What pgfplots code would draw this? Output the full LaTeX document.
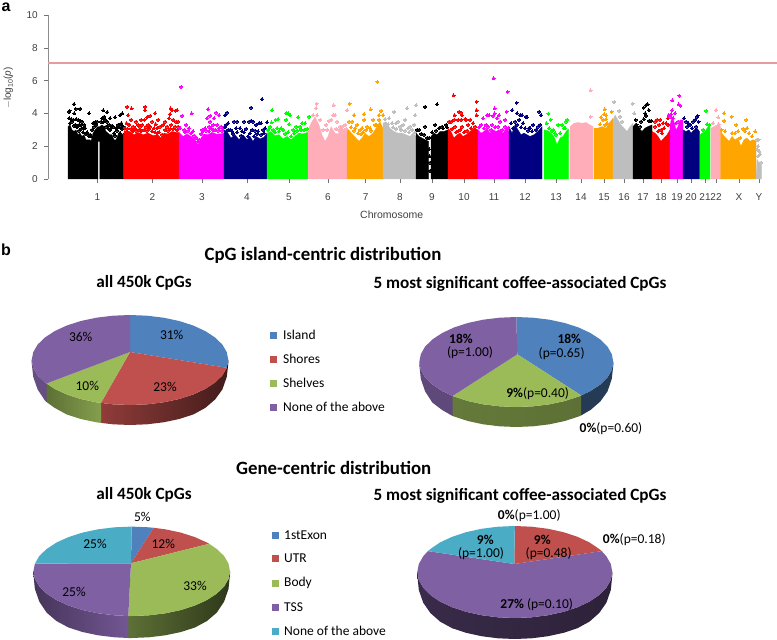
\documentclass[border=0pt]{standalone}
\usepackage{fontspec}
\usepackage{pgfplots}
\pgfplotsset{compat=1.18}
\setmainfont{Carlito}
\newfontfamily\arial{Liberation Sans}
\definecolor{cblue}{HTML}{4F81BD}
\definecolor{cred}{HTML}{C0504D}
\definecolor{cgreen}{HTML}{9BBB59}
\definecolor{cpurple}{HTML}{7F60A3}
\definecolor{caqua}{HTML}{4BACC6}
\definecolor{mblack}{HTML}{000000}
\definecolor{mred}{HTML}{FF0000}
\definecolor{mmag}{HTML}{FF00FF}
\definecolor{mnavy}{HTML}{000080}
\definecolor{mgreen}{HTML}{00FF00}
\definecolor{mpink}{HTML}{FFAEB9}
\definecolor{morange}{HTML}{FFA500}
\definecolor{mgrey}{HTML}{BEBEBE}
\definecolor{txt}{HTML}{404040}
\definecolor{sigline}{HTML}{E49C9C}
\pgfplotsset{
 bulk/.style={fill=#1,draw=#1,line width=0.2pt,mark=none},
 dots/.style={only marks,mark=*,mark size=1.5pt,color=#1,mark options={draw=#1,fill=#1,line width=0pt}},
}
\newcommand{\ttl}[1]{{\fontsize{18.8}{18.8}\selectfont\bfseries #1}}
\newcommand{\sub}[1]{{\fontsize{17.2}{17.2}\selectfont\bfseries #1}}
\newcommand{\pc}{\fontsize{13.5}{13.5}\selectfont}
\begin{document}
\begin{tikzpicture}[x=1pt,y=1pt]
\useasboundingbox (0,0) rectangle (777pt,640pt);
% ---------- a: Manhattan plot ----------
\begin{axis}[at={(48.3pt,461pt)},anchor=south west,scale only axis,width=728.7pt,height=164pt,
 xmin=48.3,xmax=777,ymin=0,ymax=10,clip=false,
 axis y line*=left,axis x line*=bottom,
 x axis line style={draw=none},
 y axis line style={draw=black!45,line width=1.2pt,-},
 ytick={0,2,4,6,8,10},
 xtick={97.5,152.5,202,247,289,328,365.6,400,432,464,494,525,556,581,604,624,643,661,677,691,705,716,739,759},
 xticklabels={1,2,3,4,5,6,7,8,9,10,11,12,13,14,15,16,17,18,19,20,21,22,X,Y},
 tick style={draw=black!55,line width=0.5pt},
 major tick length=4.5pt,
 tick align=outside,
 /pgf/number format/assume math mode=true,
 tick label style={font=\arial\fontsize{10}{10}\selectfont,text=txt},
 xticklabel style={yshift=-6.5pt},
 yticklabel style={xshift=-2.5pt},
 ]
\addplot[draw=sigline,line width=1.5pt,mark=none,forget plot] coordinates {(48.3,7.07)(777,7.07)};
% chr 1
\addplot[bulk=mblack] coordinates {(68,0)(68,3.2)(70,3.3)(72,3.0)(74,2.9)(76,3.0)(78,2.7)(80,2.8)(82,2.6)(84,2.7)(86,2.4)(88,2.4)(90,2.4)(91,2.3)(93,2.8)(95,3.0)(97.7,3.2)(99.8,3.2)(102,3.3)(104,3.2)(106,2.9)(108,2.8)(110,2.7)(112,2.7)(114,2.4)(116,2.4)(118,2.7)(120,2.9)(122,2.7)(123.7,2.8)(123.7,0)(99.8,0)(99.8,2.3)(97.9,2.3)(97.9,0)} -- cycle;
\addplot[dots=mblack] coordinates {(69,4.1)(74,4.57)(69.5,4.15)(75.7,4.28)(80,4.28)(74.3,4)(89,4.0)(103.3,4.18)(107.3,4.08)(104.3,3.8)(115,3.76)(110,3.7)(120,3.9)(122.3,4)(121.3,3.4)(69,3.7)(71,3.65)(73,3.6)(76,3.65)(78,3.6)(80,3.55)(82,3.5)(84,3.3)(85,3.1)(87,2.85)(75,3.3)(79,3.3)(81,3.3)(83,3.1)(90,2.7)(93,3.4)(95,3.45)(97,3.5)(102,3.7)(105,3.6)(107,3.5)(109,3.3)(112,3.25)(113,3.2)(116,3.1)(118,3.3)(121,3.25)(123,3.2)(70,3.4)(72,3.5)(74,3.25)(77,3.15)(79,2.95)(81,3.05)(83,2.85)(86,2.75)(88,2.7)(89,2.6)(91,2.6)(92,3.0)(94,3.2)(96,3.3)(101,3.5)(103,3.45)(106,3.2)(108,3.1)(110,3.0)(111,3.1)(114,2.8)(115,2.65)(117,2.95)(119,3.15)(120,2.8)(122,3.05)};
% chr 2
\addplot[bulk=mred] coordinates {(124,0)(124,2.95)(130,2.9)(134,2.7)(138,2.85)(143,2.7)(148,2.8)(153,2.65)(158,2.7)(161,2.5)(164,2.8)(168,2.75)(172,2.9)(176,2.85)(179,2.85)(179,0)} -- cycle;
\addplot[dots=mred] coordinates {(127,4.4)(131.5,4.3)(145,4.4)(145,4.2)(155,4)(158,3.6)(150,3.85)(147,3.75)(131,3.6)(128,3.9)(126.5,3.4)(136,3.5)(141,3.6)(144.5,3.6)(148,3.3)(152,3.5)(155.5,3.35)(165,3.5)(170,3.95)(170.5,4.3)(172,4.2)(177,4.2)(175.5,4.15)(169,3.7)(173,3.6)(176,3.5)(178,3.5)(129,3.3)(133,3.2)(135,3.1)(138,3.3)(140,3.2)(142,3.3)(146,3.2)(150,3.2)(154,3.1)(157,3.1)(160,3.2)(163,3.3)(167,3.2)(171,3.3)(175,3.2)(178,3.2)(125,3.1)(127,3.05)(131,3.05)(133,2.9)(136,2.95)(139,3.0)(141,2.9)(144,3.0)(147,2.95)(149,3.05)(152,2.9)(155,2.85)(157,2.8)(159,2.85)(162,2.7)(165,3.0)(168,2.95)(170,3.05)(173,3.05)(177,3.0)};
% chr 3
\addplot[bulk=mmag] coordinates {(179,0)(179,2.85)(183,2.6)(187,2.75)(191,2.6)(195,2.4)(198,2.1)(201,2.5)(204,2.75)(208,2.7)(212,2.85)(216,2.75)(220,2.75)(224,2.8)(224,0)} -- cycle;
\addplot[dots=mmag] coordinates {(181,5.62)(182,3.85)(191.5,4)(208,4.25)(216,4.05)(219,3.9)(210,3.85)(207,3.7)(210,3.5)(213,3.3)(189,3.1)(186,3.3)(214,3.7)(209,3.2)(205,3.1)(196,2.5)(198,2.3)(199,2.4)(217,3.3)(221,3.2)(184,3.0)(193,2.9)(202,3.0)(211,3.1)(219,3.1)(223,3.1)(180,3.1)(185,2.85)(188,2.95)(191,2.8)(194,2.65)(201,2.75)(203,2.9)(206,2.95)(209,2.9)(213,3.0)(215,3.0)(218,2.95)(222,2.95)};
% chr 4
\addplot[bulk=mnavy] coordinates {(224,0)(224,3.0)(227,2.9)(231,2.5)(235,2.7)(239,2.4)(243,2.7)(247,2.4)(250,2.6)(253,2.3)(256,2.6)(260,2.45)(264,2.55)(267,2.8)(267,0)} -- cycle;
\addplot[dots=mnavy] coordinates {(225,3.9)(227,4.05)(251,4.35)(262,4.87)(234,3.5)(237,3.5)(244,3.5)(249,3.5)(251,3.55)(253,3.5)(256,3.3)(259,3.4)(261,3.4)(267,3.45)(228,3.4)(242,2.9)(232,2.9)(258,2.9)(263,3)(226,3.3)(230,3.0)(236,3.1)(240,3.1)(246,3.05)(252,3.0)(255,2.95)(265,3.1)(225,3.15)(228,3.0)(233,2.75)(237,2.85)(241,2.65)(244,2.85)(248,2.6)(250,2.8)(254,2.6)(257,2.75)(261,2.7)(264,2.8)};
% chr 5
\addplot[bulk=mgreen] coordinates {(267,0)(267,2.8)(271,2.9)(275,2.65)(279,2.7)(283,2.45)(287,2.6)(291,2.4)(295,2.6)(299,2.8)(303,2.75)(308,2.85)(308,0)} -- cycle;
\addplot[dots=mgreen] coordinates {(272,4.2)(275.5,3.6)(271.5,3.45)(270,3.2)(278,3.65)(286,3.6)(289,3.35)(286,4.0)(288,4.0)(290,3.9)(298,3.75)(302,3.4)(305,3.4)(309,3.8)(283,3.0)(281,3.1)(300,3.2)(296,3.2)(277,3.1)(293,3.0)(268,3.0)(273,3.0)(275,2.85)(279,2.9)(285,2.75)(288,2.85)(291,2.6)(294,2.8)(297,2.95)(301,3.0)(304,3.0)(307,3.05)};
% chr 6
\addplot[bulk=mpink] coordinates {(308,0)(308,3.0)(311,3.4)(315,3.8)(319,3.3)(322,2.7)(325,2.3)(328,2.6)(331,3.2)(335,2.8)(338,2.75)(342,3.1)(347,2.9)(347,0)} -- cycle;
\addplot[dots=mpink] coordinates {(316.5,4.6)(316,4.3)(313,3.9)(317,3.9)(320,3.6)(333.5,4.5)(333,3.9)(335,3.9)(331,3.6)(329,3.55)(326,3.3)(347,4.2)(337,3.5)(344,2.9)(323,3.0)(327,3.0)(340,3.2)(345,3.3)(336,3.05)(339,3.0)(342,3.2)(346,3.05)};
% chr 7
\addplot[bulk=morange] coordinates {(347,0)(347,3.1)(350,2.9)(353,2.7)(356,2.5)(359,2.3)(362,2.5)(365,2.8)(369,2.6)(373,2.8)(377,3.2)(380,3.5)(383,3.1)(383,0)} -- cycle;
\addplot[dots=morange] coordinates {(349.5,4.6)(354,3.9)(364,3.95)(370.5,4.25)(377.3,5.93)(381,4.15)(379,3.9)(383,3.9)(373,3.6)(364,3.6)(352,3.5)(349,3.5)(357,3.3)(362,3.1)(355,3.1)(367,3.2)(370,3.1)(360,3.0)(375,3.3)(351,3.15)(354,2.95)(358,2.8)(361,2.75)(363,2.85)(366,3.0)(371,2.95)(376,3.3)(379,3.6)};
% chr 8
\addplot[bulk=mgrey] coordinates {(383,0)(383,3.4)(386,3.5)(390,3.1)(394,2.9)(398,2.8)(402,2.8)(406,2.7)(410,2.6)(413,2.8)(416,2.6)(416,0)} -- cycle;
\addplot[dots=mgrey] coordinates {(394,4.1)(407,4.3)(416,4.5)(415,3.9)(405,3.6)(398,3.5)(396,3.4)(389,3.7)(403,3.3)(414,3.3)(410,3.2)(392,3.4)(400,3.2)(408,3.1)(385,3.65)(388,3.35)(393,3.15)(396,3.05)(401,3.0)(405,2.95)(409,2.85)(412,3.0)(415,2.85)};
% chr 9
\addplot[bulk=mblack] coordinates {(416,0)(416,2.8)(419,2.6)(422,2.5)(425,2.4)(428.5,2.3)(428.5,0)} -- cycle;
\addplot[bulk=mblack] coordinates {(431,0)(431,2.6)(434,2.8)(437,2.7)(440,2.9)(444,2.9)(448,3.0)(448,0)} -- cycle;
\addplot[dots=mblack] coordinates {(425,4.4)(437,4.55)(419,3)(425,3.2)(435,3.3)(442,3.2)(429,1.8)(429.5,1.4)(430,1)(430,0.5)(429,2.5)(446,3.3)(417,3.0)(421,2.75)(424,2.7)(427,2.5)(432,2.85)(436,2.95)(439,3.1)(443,3.1)(447,3.15)};
% chr 10
\addplot[bulk=mred] coordinates {(448,0)(448,3.1)(451,2.9)(454,2.5)(457,2.7)(460,2.8)(463,2.6)(466,2.7)(470,2.9)(474,3.1)(478,3.0)(478,0)} -- cycle;
\addplot[dots=mred] coordinates {(453.5,5.1)(476.5,4.7)(476.5,4.2)(476.5,3.9)(459,4.1)(461,4.05)(462,3.9)(454.5,3.9)(454,3.6)(449,3.5)(451,3.5)(458,3.6)(461,3.6)(465,3.65)(466,3.6)(470,3.6)(473,3.4)(455,3.2)(462,3.2)(468,3.3)(458,2.9)(452,3.05)(456,2.85)(460,3.0)(464,2.85)(467,2.95)(471,3.1)(475,3.2)};
% chr 11
\addplot[bulk=mmag] coordinates {(478,0)(478,3.0)(481,2.8)(484,2.9)(487,3.1)(490,2.8)(493,3.0)(496,2.9)(499,3.0)(503,2.8)(506,3.1)(509,2.9)(509,0)} -- cycle;
\addplot[dots=mmag] coordinates {(493.5,6.15)(507.7,5.32)(506.5,4.1)(494.5,4.3)(494.5,4)(487,3.9)(489,3.9)(493,3.85)(497,3.7)(499,3.9)(505,3.6)(483,3.7)(481,3.3)(500,3.5)(486,3.3)(492,3.3)(479,3.15)(484,3.1)(488,3.2)(491,3.0)(495,3.15)(498,3.2)(502,3.0)(505,3.2)(508,3.1)};
% chr 12
\addplot[bulk=mnavy] coordinates {(509,0)(509,3.2)(512,2.8)(515,3.3)(518,3.0)(521,2.7)(524,2.8)(527,2.7)(530,2.6)(534,2.7)(538,2.9)(542,3.2)(542,0)} -- cycle;
\addplot[dots=mnavy] coordinates {(512.3,4.2)(516.7,4.65)(517,4)(520,3.9)(522,3.9)(526,3.8)(527,3.75)(533,3.3)(539,4.1)(541,3.9)(538,3.2)(530,3.1)(515,3.5)(519,3.6)(523,3.4)(529,3.1)(511,3.4)(513,3.1)(517,3.3)(521,3.15)(525,3.1)(528,2.95)(532,2.9)(536,3.0)(540,3.3)};
% chr 13
\addplot[bulk=mgreen] coordinates {(544,0)(544,3.0)(548,2.95)(551,2.8)(554,2.6)(557,2.1)(560,2.5)(563,2.6)(566,2.9)(568.5,3.05)(568.5,0)} -- cycle;
\addplot[dots=mgreen] coordinates {(548.3,3.98)(550.5,3.6)(546.5,3.4)(558,3.3)(553,3)(562,3.3)(566,3.5)(567,3.6)(556,2.7)(564,3.1)(549,3.1)(552,2.95)(555,2.8)(560,2.8)(565,3.1)};
% chr 14
\addplot[bulk=mpink] coordinates {(570,0)(570,3.2)(574,3.4)(578,3.45)(582,3.4)(586,3.45)(590,3.3)(593,3.2)(593,0)} -- cycle;
\addplot[dots=mpink] coordinates {(590.5,5.4)(590.5,3.8)};
% chr 15
\addplot[bulk=morange] coordinates {(594,0)(594,3.1)(598,3.1)(602,3.2)(606,3.1)(609,3.4)(613,3.7)(613,0)} -- cycle;
\addplot[dots=morange] coordinates {(604.6,4.25)(604,3.95)(606,3.9)(611.5,4.1)(601,3.75)(603,3.6)(606,3.65)(607,3.4)(600,3.35)(605,3.3)};
% chr 16
\addplot[bulk=mgrey] coordinates {(613,0)(613,3.6)(615,3.9)(618,3.6)(621,3.3)(624,3.1)(627,2.9)(630,3.2)(633,3.4)(633,0)} -- cycle;
\addplot[dots=mgrey] coordinates {(614.3,4.7)(619.3,4.15)(632.7,4.6)(634.3,4.0)(620,3.8)(622,3.5)};
% chr 17
\addplot[bulk=mblack] coordinates {(633,0)(633,3.2)(636,3.4)(639,3.1)(642,2.9)(645,3.1)(648,3.2)(652,3.3)(652,0)} -- cycle;
\addplot[dots=mblack] coordinates {(635.6,3.6)(643.7,4.35)(646,4.5)(647.7,4.55)(648.7,4.2)(645.3,4.0)(646,3.85)(643.7,3.65)(641,3.5)(649,3.55)(651,3.55)(636.5,3.3)(640,3.2)};
% chr 18
\addplot[bulk=mred] coordinates {(652,0)(652,2.9)(655,2.8)(658,2.6)(661,2.3)(664,2.5)(667,2.7)(670,3.0)(670,0)} -- cycle;
\addplot[dots=mred] coordinates {(657,3.6)(660,3.6)(663,3.4)(655,3.2)(659,3.3)(661,3.0)(664,3.1)(666,3.4)(668,3.7)(668,3.3)(655,3.5)(662,2.8)(658,2.9)};
% chr 19
\addplot[bulk=mmag] coordinates {(670,0)(670,3.3)(672,3.8)(674,3.5)(676,3.0)(678,3.2)(680,3.6)(683,3.6)(683,0)} -- cycle;
\addplot[dots=mmag] coordinates {(672.3,4.8)(679.3,5.08)(678.7,4.55)(680.3,4.47)(671,3.95)(672,4.2)(675,4.0)(673,3.7)(670,3.8)(676,3.4)(678,3.5)(668.5,3.9)};
% chr 20
\addplot[bulk=mnavy] coordinates {(683,0)(683,3.0)(686,2.9)(689,3.0)(691,2.8)(694,3)(697,3.1)(699.5,2.9)(699.5,0)} -- cycle;
\addplot[dots=mnavy] coordinates {(684,3.7)(686,3.5)(688,3.4)(690,3.3)(693,3.5)(695,3.6)(697,3.8)(697.5,3.85)(698.5,3.5)(692,3.1)(687,3.2)(696,3.2)};
% chr 21
\addplot[bulk=mgreen] coordinates {(700,0)(700,2.7)(702,2.8)(705,2.9)(707,3.1)(710,3.3)(710,0)} -- cycle;
\addplot[dots=mgreen] coordinates {(706,4.15)(707,3.35)(709,3.3)(703,3.0)};
% chr 22
\addplot[bulk=mpink] coordinates {(711,0)(711,3.1)(714,3.2)(717,3.3)(720.5,3.2)(720.5,0)} -- cycle;
\addplot[dots=mpink] coordinates {(716,4.2)(718,3.75)(713,3.4)(718.5,3.35)};
% chr X
\addplot[bulk=morange] coordinates {(720.5,0)(720.5,2.9)(723,2.7)(726,2.5)(729,2.3)(732,2.6)(735,2.4)(738,2.5)(741,2.0)(744,2.4)(747,2.5)(750,2.3)(753,2.4)(756,2.3)(756,0)} -- cycle;
\addplot[dots=morange] coordinates {(724,4.0)(724,3.55)(731.7,3.8)(736.3,3.3)(746.3,3.6)(743,3.05)(732,2.8)(735,2.8)(738,2.9)(747,3.1)(749,2.8)(755.3,2.9)(740,2.5)(721.5,3)(725,2.9)(745,2.9)(752,2.6)};
% chr Y
\addplot[bulk=mgrey] coordinates {(756,0)(757,1.2)(759,1.0)(761.5,0.8)(761.5,0)} -- cycle;
\addplot[dots=mgrey] coordinates {(757,2.4)(758,2.0)(759,1.7)(760,1.5)(758,1.4)(761,1.0)(757,1.8)(758.5,2.4)};
\end{axis}
% ---------- b: pies, in image pixel coordinates ----------
\begin{axis}[at={(0pt,0pt)},anchor=south west,scale only axis,width=777pt,height=640pt,
 xmin=0,xmax=777,ymin=0,ymax=640,y dir=reverse,hide axis,clip=false]
% --- pie A walls
\addplot[draw=none,fill=blue!30!black] coordinates {(228.3,360)(226.8,367.8)(226.8,376.8)(228.3,363)} -- cycle;
\addplot[draw=none,shade,left color=cred!75!black,right color=cred!35!black] coordinates {(226.8,367.8)(222.4,375.4)(215.1,382.5)(205.3,388.9)(193.2,394.5)(179.2,399)(163.6,402.3)(147.1,404.3)(130,405)(112.9,404.3)(101,402.9)(101,422.9)(112.9,424.3)(130,425)(147.1,424.3)(163.6,422.3)(179.2,419)(193.2,414.5)(205.3,407.9)(215.1,399.5)(222.4,389.4)(226.8,376.8)} -- cycle;
\addplot[draw=none,shade,left color=cgreen!60!black,right color=cgreen!85!black] coordinates {(101,402.9)(96.4,402.3)(80.8,399)(66.8,394.5)(54.7,388.9)(46.5,383.5)(46.5,402)(54.7,407.9)(66.8,414.5)(80.8,419)(96.4,422.3)(101,422.9)} -- cycle;
\addplot[draw=none,fill=cpurple!80!black] coordinates {(46.5,383.5)(44.9,382.5)(37.6,375.4)(33.2,367.8)(31.7,360)(31.7,363)(33.2,376.8)(37.6,389.4)(44.9,400.5)(46.5,402)} -- cycle;
% --- pie A top
\addplot[draw=none,fill=cblue] coordinates {(130,352)(130,315)(147.1,315.7)(163.6,317.7)(179.2,321)(193.2,325.5)(205.3,331.1)(215.1,337.5)(222.4,344.6)(226.8,352.2)(228.3,360)(226.8,367.8)} -- cycle;
\addplot[draw=none,fill=cred] coordinates {(130,352)(226.8,367.8)(222.4,375.4)(215.1,382.5)(205.3,388.9)(193.2,394.5)(179.2,399)(163.6,402.3)(147.1,404.3)(130,405)(112.9,404.3)(101,402.9)} -- cycle;
\addplot[draw=none,fill=cgreen] coordinates {(130,352)(101,402.9)(96.4,402.3)(80.8,399)(66.8,394.5)(54.7,388.9)(46.5,383.5)} -- cycle;
\addplot[draw=none,fill=cpurple] coordinates {(130,352)(46.5,383.5)(44.9,382.5)(37.6,375.4)(33.2,367.8)(31.7,360)(33.2,352.2)(37.6,344.6)(44.9,337.5)(54.7,331.1)(66.8,325.5)(80.8,321)(96.4,317.7)(112.9,315.7)(130,315)} -- cycle;
% --- pie B walls
\addplot[draw=none,fill=cblue!45!black] coordinates {(613.3,362)(611.8,369.8)(607.5,377.4)(600.3,384.5)(590.6,390.9)(581.2,395.4)(581.2,415.4)(590.6,409.9)(600.3,401.5)(607.5,391.4)(611.8,378.8)(613.3,365)} -- cycle;
\addplot[draw=none,shade,left color=cgreen!65!black,middle color=cgreen!90!black,right color=cgreen!60!black] coordinates {(581.2,395.4)(578.7,396.5)(564.8,401)(549.5,404.3)(533.1,406.3)(516.3,407)(499.5,406.3)(483.1,404.3)(467.8,401)(452.6,396)(452.6,416)(467.8,421)(483.1,424.3)(499.5,426.3)(516.3,427)(533.1,426.3)(549.5,424.3)(564.8,421)(578.7,416.5)(581.2,415.4)} -- cycle;
\addplot[draw=none,fill=cpurple!75!black] coordinates {(452.6,396)(442,390.9)(432.3,384.5)(425.1,377.4)(420.8,369.8)(419.3,362)(419.3,365)(420.8,378.8)(425.1,391.4)(432.3,402.5)(442,409.9)(452.6,416)} -- cycle;
% --- pie B top
\addplot[draw=none,fill=cblue] coordinates {(517.3,354.3)(516.3,317)(533.1,317.7)(549.5,319.7)(564.8,323)(578.7,327.5)(590.6,333.1)(600.3,339.5)(607.5,346.6)(611.8,354.2)(613.3,362)(611.8,369.8)(607.5,377.4)(600.3,384.5)(590.6,390.9)(581.2,395.4)} -- cycle;
\addplot[draw=none,fill=cgreen] coordinates {(517.3,354.3)(581.2,395.4)(578.7,396.5)(564.8,401)(549.5,404.3)(533.1,406.3)(516.3,407)(499.5,406.3)(483.1,404.3)(467.8,401)(452.6,396)} -- cycle;
\addplot[draw=none,fill=cpurple] coordinates {(517.3,354.3)(452.6,396)(442,390.9)(432.3,384.5)(425.1,377.4)(420.8,369.8)(419.3,362)(420.8,354.2)(425.1,346.6)(432.3,339.5)(442,333.1)(453.9,327.5)(467.8,323)(483.1,319.7)(499.5,317.7)(516.3,317)} -- cycle;
% --- pie C walls
\addplot[draw=none,shade,left color=cgreen!60!black,right color=cgreen!30!black] coordinates {(230,571.3)(228.5,579)(224.1,586.6)(216.8,593.6)(207,600)(194.9,605.5)(180.9,610)(165.3,613.3)(148.8,615.3)(131.7,616)(128.3,616)(128.3,638)(131.7,638)(148.8,637.3)(165.3,635.3)(180.9,632)(194.9,627.5)(207,621)(216.8,612.6)(224.1,601.6)(228.5,589)(230,574.3)} -- cycle;
\addplot[draw=none,shade,left color=cpurple!55!black,right color=cpurple!90!black] coordinates {(128.3,616)(114.6,615.3)(98.1,613.3)(82.5,610)(68.5,605.5)(56.4,600)(46.6,593.6)(39.3,586.6)(34.9,579)(33.4,571.3)(33.4,574.3)(34.9,589)(39.3,601.6)(46.6,612.6)(56.4,621)(68.5,627.5)(82.5,632)(98.1,635.3)(114.6,637.3)(128.3,638)} -- cycle;
% --- pie C top
\addplot[draw=none,fill=cblue] coordinates {(131,563.3)(131.7,526.6)(148.8,527.3)(153.8,527.8)} -- cycle;
\addplot[draw=none,fill=cred] coordinates {(131,563.3)(153.8,527.8)(165.3,529.3)(180.9,532.6)(194.9,537.1)(207,542.6)(209.2,543.8)} -- cycle;
\addplot[draw=none,fill=cgreen] coordinates {(131,563.3)(209.2,543.8)(216.8,549)(224.1,556)(228.5,563.6)(230,571.3)(228.5,579)(224.1,586.6)(216.8,593.6)(207,600)(194.9,605.5)(180.9,610)(165.3,613.3)(148.8,615.3)(131.7,616)(128.3,616)} -- cycle;
\addplot[draw=none,fill=cpurple] coordinates {(131,563.3)(128.3,616)(114.6,615.3)(98.1,613.3)(82.5,610)(68.5,605.5)(56.4,600)(46.6,593.6)(39.3,586.6)(34.9,579)(33.4,571.3)(34.9,563.6)} -- cycle;
\addplot[draw=none,fill=caqua] coordinates {(131,563.3)(34.9,563.6)(39.3,556)(46.6,549)(56.4,542.6)(68.5,537.1)(82.5,532.6)(98.1,529.3)(114.6,527.3)(131.7,526.6)} -- cycle;
% --- pie D walls
\addplot[draw=none,shade,left color=cpurple!45!black,middle color=cpurple!75!black,right color=cpurple!35!black] coordinates {(612.3,572)(610.8,580)(606.4,587.7)(599.2,595)(589.5,601.6)(577.5,607.2)(563.6,611.8)(548.1,615.2)(531.7,617.3)(514.8,618)(497.9,617.3)(481.5,615.2)(466,611.8)(452.1,607.2)(440.1,601.6)(430.4,595)(423.2,587.7)(418.8,580)(417.3,572)(417.3,575)(418.8,590)(423.2,602.7)(430.4,613)(440.1,621.6)(452.1,628.2)(466,632.8)(481.5,636.2)(497.9,638.3)(514.8,639)(531.7,638.3)(548.1,636.2)(563.6,632.8)(577.5,628.2)(589.5,621.6)(599.2,613)(606.4,602.7)(610.8,590)(612.3,575)} -- cycle;
% --- pie D top
\addplot[draw=none,fill=cred] coordinates {(514.3,564)(514.8,526)(531.7,526.7)(548.1,528.8)(563.6,532.2)(577.5,536.8)(589.5,542.4)(599.2,549)(601.7,551.1)} -- cycle;
\addplot[draw=none,fill=cpurple] coordinates {(514.3,564)(601.7,551.1)(606.4,556.3)(610.8,564)(612.3,572)(610.8,580)(606.4,587.7)(599.2,595)(589.5,601.6)(577.5,607.2)(563.6,611.8)(548.1,615.2)(531.7,617.3)(514.8,618)(497.9,617.3)(481.5,615.2)(466,611.8)(452.1,607.2)(440.1,601.6)(430.4,595)(423.2,587.7)(418.8,580)(417.3,572)(418.8,564)(423.2,556.3)(427.9,551.1)} -- cycle;
\addplot[draw=none,fill=caqua] coordinates {(514.3,564)(427.9,551.1)(430.4,549)(440.1,542.4)(452.1,536.8)(466,532.2)(481.5,528.8)(497.9,526.7)(514.8,526)} -- cycle;
% --- legends
\addplot[only marks,mark=square*,mark size=3pt,color=cblue] coordinates {(273.3,335)(275,535)};
\addplot[only marks,mark=square*,mark size=3pt,color=cred] coordinates {(273.3,359)(275,558.3)};
\addplot[only marks,mark=square*,mark size=3pt,color=cgreen] coordinates {(273.3,383.3)(275,583.3)};
\addplot[only marks,mark=square*,mark size=3pt,color=cpurple] coordinates {(273.3,407.3)(275,606.7)};
\addplot[only marks,mark=square*,mark size=3pt,color=caqua] coordinates {(275,630.7)};
% --- texts
\node[font=\arial\fontsize{16}{16}\selectfont\bfseries] at (axis cs:6,7) {a};
\node[font=\arial\fontsize{16}{16}\selectfont\bfseries] at (axis cs:6,250) {b};
\node[font=\arial\fontsize{10.5}{10.5}\selectfont,text=txt] at (axis cs:391.7,215) {Chromosome};
\node[font=\arial\fontsize{10}{10}\selectfont,text=txt,rotate=90] at (axis cs:8.3,88) {$-$log\raisebox{-2pt}{\fontsize{7}{7}\selectfont 10}(\textit{p})};
\node at (axis cs:323,255) {\ttl{CpG island-centric distribution}};
\node at (axis cs:144,283.3) {\sub{all 450k CpGs}};
\node at (axis cs:520,284) {\sub{5 most significant coffee-associated CpGs}};
\node at (axis cs:333.7,467.7) {\ttl{Gene-centric distribution}};
\node at (axis cs:144,495) {\sub{all 450k CpGs}};
\node at (axis cs:520,495.7) {\sub{5 most significant coffee-associated CpGs}};
% legend texts
\node[anchor=west,inner sep=0,font=\pc] at (axis cs:283,335) {Island};
\node[anchor=west,inner sep=0,font=\pc] at (axis cs:283,359) {Shores};
\node[anchor=west,inner sep=0,font=\pc] at (axis cs:283,383.3) {Shelves};
\node[anchor=west,inner sep=0,font=\pc] at (axis cs:283,407.3) {None of the above};
\node[anchor=west,inner sep=0,font=\pc] at (axis cs:284,535) {1stExon};
\node[anchor=west,inner sep=0,font=\pc] at (axis cs:284,558.3) {UTR};
\node[anchor=west,inner sep=0,font=\pc] at (axis cs:284,583.3) {Body};
\node[anchor=west,inner sep=0,font=\pc] at (axis cs:284,606.7) {TSS};
\node[anchor=west,inner sep=0,font=\pc] at (axis cs:284,630.7) {None of the above};
% pie labels
\tikzset{lab/.style={font=\pc,inner sep=0pt}}
\node[lab] at (axis cs:80.7,336.7) {36\%};
\node[lab] at (axis cs:171.7,335) {31\%};
\node[lab] at (axis cs:87.3,385.7) {10\%};
\node[lab] at (axis cs:165,387.3) {23\%};
\node[lab] at (axis cs:461,338.8) {\textbf{18\%}};
\node[lab] at (axis cs:470,352.2) {(p=1.00)};
\node[lab] at (axis cs:569.3,338.8) {\textbf{18\%}};
\node[lab] at (axis cs:561.7,353.3) {(p=0.65)};
\node[lab] at (axis cs:537.7,394) {\textbf{9\%}(p=0.40)};
\node[lab] at (axis cs:611,429) {\textbf{0\%}(p=0.60)};
\node[lab] at (axis cs:142.3,516.7) {5\%};
\node[lab] at (axis cs:95,544.3) {25\%};
\node[lab] at (axis cs:163.3,544.3) {12\%};
\node[lab] at (axis cs:195,586) {33\%};
\node[lab] at (axis cs:74,591.7) {25\%};
\node[lab] at (axis cs:529.3,515.7) {\textbf{0\%}(p=1.00)};
\node[lab] at (axis cs:634.3,539.3) {\textbf{0\%}(p=0.18)};
\node[lab] at (axis cs:485.3,540.2) {\textbf{9\%}};
\node[lab] at (axis cs:481,553.8) {(p=1.00)};
\node[lab] at (axis cs:542.3,540.2) {\textbf{9\%}};
\node[lab] at (axis cs:548.7,554) {(p=0.48)};
\node[lab] at (axis cs:536.7,604.3) {\textbf{27\%} (p=0.10)};
\end{axis}
\end{tikzpicture}
\end{document}
